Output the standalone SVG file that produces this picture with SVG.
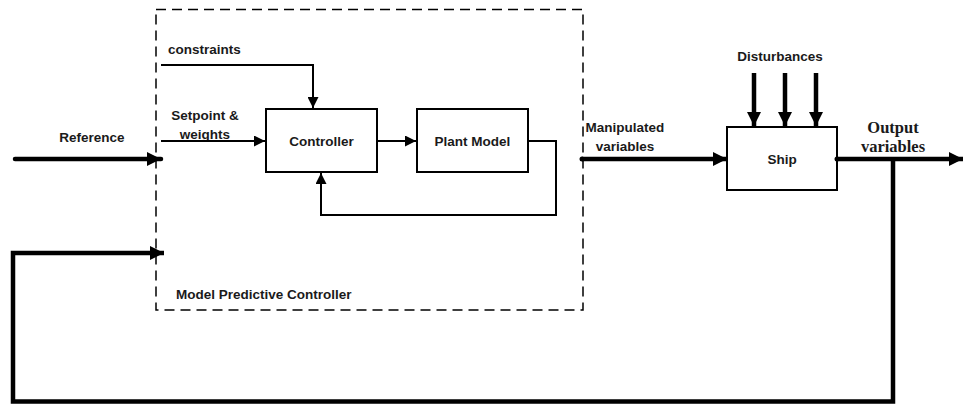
<svg xmlns="http://www.w3.org/2000/svg" width="963" height="405" viewBox="0 0 963 405">
<style>
.box{fill:#fff;stroke:#000;stroke-width:2}
.t{font-family:"Liberation Sans",Arial,sans-serif;font-weight:bold;font-size:13.5px;fill:#1a1a1a}
.s{font-family:"Liberation Serif","Times New Roman",serif;font-weight:bold;font-size:16.5px;fill:#1a1a1a}
.thin{fill:none;stroke:#000;stroke-width:2}
.thick{fill:none;stroke:#000;stroke-width:4.5}
</style>
<defs>
<marker id="ah" markerWidth="11" markerHeight="11" refX="11" refY="5.5" orient="auto" markerUnits="userSpaceOnUse"><path d="M0,0 L11,5.5 L0,11 Z" fill="#000"/></marker>
<marker id="ahk" markerWidth="14" markerHeight="14" refX="14" refY="7" orient="auto" markerUnits="userSpaceOnUse"><path d="M0,0 L14,7 L0,14 Z" fill="#000"/></marker>
</defs>
<g id="mpc">
<rect x="156" y="9.5" width="427" height="300.5" fill="none" stroke="#000" stroke-width="1.5" stroke-dasharray="10,6"/>
<text class="t" x="176" y="299">Model Predictive Controller</text>
</g>
<g id="controller">
<rect class="box" x="266" y="109" width="111" height="63"/>
<text class="t" x="321.5" y="146" text-anchor="middle">Controller</text>
</g>
<g id="plant">
<rect class="box" x="417" y="109" width="111" height="63"/>
<text class="t" x="472.5" y="146" text-anchor="middle">Plant Model</text>
</g>
<g id="ship">
<rect class="box" x="727" y="127" width="110" height="63"/>
<text class="t" x="782" y="164" text-anchor="middle">Ship</text>
</g>
<g id="labels">
<text class="t" x="168" y="54">constraints</text>
<text class="t" x="205" y="120" text-anchor="middle">Setpoint &amp;</text>
<text class="t" x="205" y="139" text-anchor="middle">weights</text>
<text class="t" x="92" y="142" text-anchor="middle">Reference</text>
<text class="t" x="625" y="132" text-anchor="middle">Manipulated</text>
<text class="t" x="625" y="151" text-anchor="middle">variables</text>
<text class="t" x="780" y="61" text-anchor="middle">Disturbances</text>
<text class="s" x="893" y="133" text-anchor="middle">Output</text>
<text class="s" x="893" y="152" text-anchor="middle">variables</text>
</g>
<g id="connectors">
<path class="thin" d="M161,65 H313 V108" marker-end="url(#ah)"/>
<path class="thin" d="M161,141 H265" marker-end="url(#ah)"/>
<path class="thin" d="M377,141 H416" marker-end="url(#ah)"/>
<path class="thin" d="M528,141 H556 V215 H321 V173" marker-end="url(#ah)"/>
<path class="thick" d="M15,159 H161" stroke-linecap="round" marker-end="url(#ahk)"/>
<circle cx="582" cy="159" r="2.5" fill="#000"/>
<path class="thick" d="M582,159 H727" marker-end="url(#ahk)"/>
<path class="thick" d="M754,73 V126" marker-end="url(#ahk)"/>
<path class="thick" d="M785,73 V126" marker-end="url(#ahk)"/>
<path class="thick" d="M816,73 V126" marker-end="url(#ahk)"/>
<circle cx="837" cy="159" r="2.5" fill="#000"/>
<path class="thick" d="M837,159 H963" marker-end="url(#ahk)"/>
<path class="thick" d="M893,159 V401.5 H13 V253 H164" marker-end="url(#ahk)"/>
</g>
</svg>
